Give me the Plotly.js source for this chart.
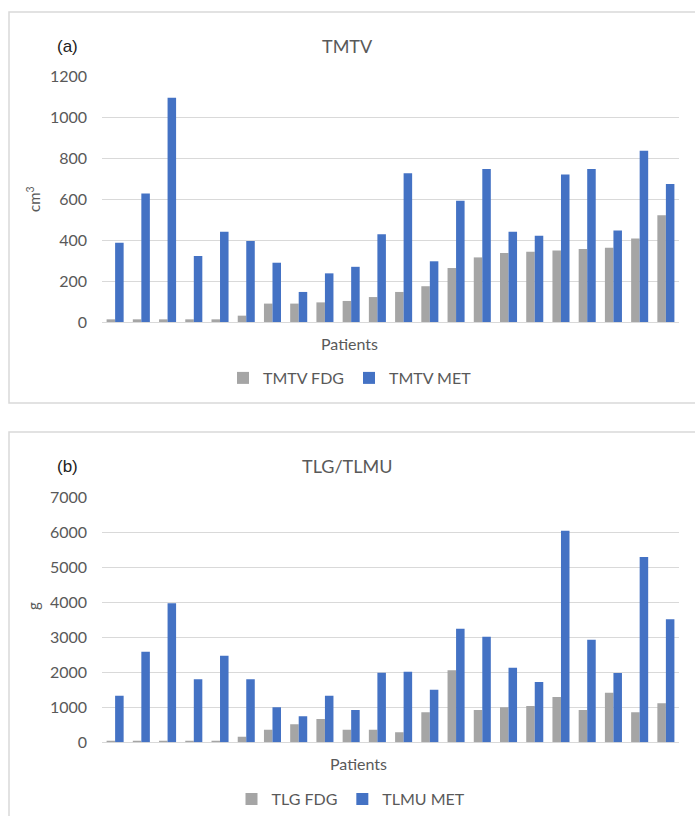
<!DOCTYPE html>
<html>
<head>
<meta charset="utf-8">
<script src="https://cdn.plot.ly/plotly-3.0.1.min.js"></script>
<style>html,body{margin:0;padding:0;background:#fff;}#chart{width:695px;height:816px;}</style>
</head>
<body>
<div id="chart"></div>
<script>
const patients = ['P1','P2','P3','P4','P5','P6','P7','P8','P9','P10','P11','P12','P13','P14','P15','P16','P17','P18','P19','P20','P21','P22'];
const tmtvFDG = [13,13,13,13,13,31,90,90,96,103,122,147,175,264,316,337,344,350,357,363,409,522];
const tmtvMET = [388,629,1097,323,442,396,290,147,238,270,429,728,297,593,748,442,422,722,748,448,838,675];
const tlgFDG = [46,46,46,46,46,160,360,514,666,360,360,286,857,2057,923,1000,1037,1294,923,1417,857,1114];
const tlmuMET = [1331,2589,3971,1800,2474,1800,1000,743,1331,923,1989,2017,1503,3246,3017,2131,1723,6046,2931,1980,5294,3514];
const yTicksA = [0,200,400,600,800,1000,1200];
const yTicksB = [0,1000,2000,3000,4000,5000,6000,7000];

const W = 695, H = 816;
const px = v => v / W;
const py = v => 1 - v / H;
const grey = '#a5a5a5', blue = '#4472c4', txt = '#595959', grid = '#d9d9d9';
const font = 'Lato, "Open Sans", sans-serif';

const traces = [
  {type:'bar', x:patients, y:tmtvFDG, name:'TMTV FDG', marker:{color:grey}, xaxis:'x', yaxis:'y', legend:'legend'},
  {type:'bar', x:patients, y:tmtvMET, name:'TMTV MET', marker:{color:blue}, xaxis:'x', yaxis:'y', legend:'legend'},
  {type:'bar', x:patients, y:tlgFDG, name:'TLG FDG', marker:{color:grey}, xaxis:'x2', yaxis:'y2', legend:'legend2'},
  {type:'bar', x:patients, y:tlmuMET, name:'TLMU MET', marker:{color:blue}, xaxis:'x2', yaxis:'y2', legend:'legend2'}
];

const xCommon = {domain:[px(102), px(679)], showticklabels:false, showgrid:false, zeroline:false, showline:false, ticks:'', fixedrange:true};
const yCommon = {showgrid:true, gridcolor:grid, gridwidth:1, zeroline:true, zerolinecolor:grid, zerolinewidth:1, showline:false,
  tickfont:{family:font, size:16, color:txt}, ticklabelstandoff:14, ticks:'', tickmode:'array'};

const legendCommon = {orientation:'h', xanchor:'center', yanchor:'middle', font:{family:font, size:16, color:txt}, bgcolor:'rgba(0,0,0,0)', itemwidth:30, tracegroupgap:0};

const layout = {
  width:W, height:H, margin:{l:0,r:0,t:0,b:0}, paper_bgcolor:'#fff', plot_bgcolor:'#fff',
  barmode:'group', bargap:0.35, bargroupgap:0,
  xaxis:Object.assign({}, xCommon, {anchor:'y'}),
  yaxis:Object.assign({}, yCommon, {anchor:'x', domain:[py(322), py(76.7)], range:[0,1200], tickvals:yTicksA}),
  xaxis2:Object.assign({}, xCommon, {anchor:'y2'}),
  yaxis2:Object.assign({}, yCommon, {anchor:'x2', domain:[py(742.3), py(497.3)], range:[0,7000], tickvals:yTicksB}),
  legend:Object.assign({}, legendCommon, {x:px(350), y:py(378)}),
  legend2:Object.assign({}, legendCommon, {x:px(351), y:py(799)}),
  shapes:[
    {type:'rect', xref:'paper', yref:'paper', x0:px(9), x1:1.02, y0:py(403), y1:py(12), line:{color:grid, width:1.5}, fillcolor:'rgba(0,0,0,0)', layer:'below'},
    {type:'rect', xref:'paper', yref:'paper', x0:px(9), x1:1.02, y0:-0.02, y1:py(432), line:{color:grid, width:1.5}, fillcolor:'rgba(0,0,0,0)', layer:'below'}
  ],
  annotations:[
    {text:'(a)', xref:'paper', yref:'paper', x:px(67), y:py(46), showarrow:false, xanchor:'center', yanchor:'middle', font:{family:'"Liberation Sans", Arial, sans-serif', size:17, color:'#222'}},
    {text:'TMTV', xref:'paper', yref:'paper', x:px(348), y:py(46), showarrow:false, xanchor:'center', yanchor:'middle', font:{family:font, size:18, color:txt}},
    {text:'cm<sup>3</sup>', xref:'paper', yref:'paper', x:px(33), y:py(199), showarrow:false, textangle:-90, xanchor:'center', yanchor:'middle', font:{family:font, size:15, color:txt}},
    {text:'Patients', xref:'paper', yref:'paper', x:px(349), y:py(343), showarrow:false, xanchor:'center', yanchor:'middle', font:{family:font, size:16, color:txt}},
    {text:'(b)', xref:'paper', yref:'paper', x:px(67), y:py(466), showarrow:false, xanchor:'center', yanchor:'middle', font:{family:'"Liberation Sans", Arial, sans-serif', size:17, color:'#222'}},
    {text:'TLG/TLMU', xref:'paper', yref:'paper', x:px(347), y:py(466), showarrow:false, xanchor:'center', yanchor:'middle', font:{family:font, size:18, color:txt}},
    {text:'g', xref:'paper', yref:'paper', x:px(33), y:py(606), showarrow:false, textangle:-90, xanchor:'center', yanchor:'middle', font:{family:font, size:15, color:txt}},
    {text:'Patients', xref:'paper', yref:'paper', x:px(358), y:py(763), showarrow:false, xanchor:'center', yanchor:'middle', font:{family:font, size:16, color:txt}}
  ]
};

Plotly.newPlot('chart', traces, layout, {displayModeBar:false, staticPlot:true});
</script>
</body>
</html>
